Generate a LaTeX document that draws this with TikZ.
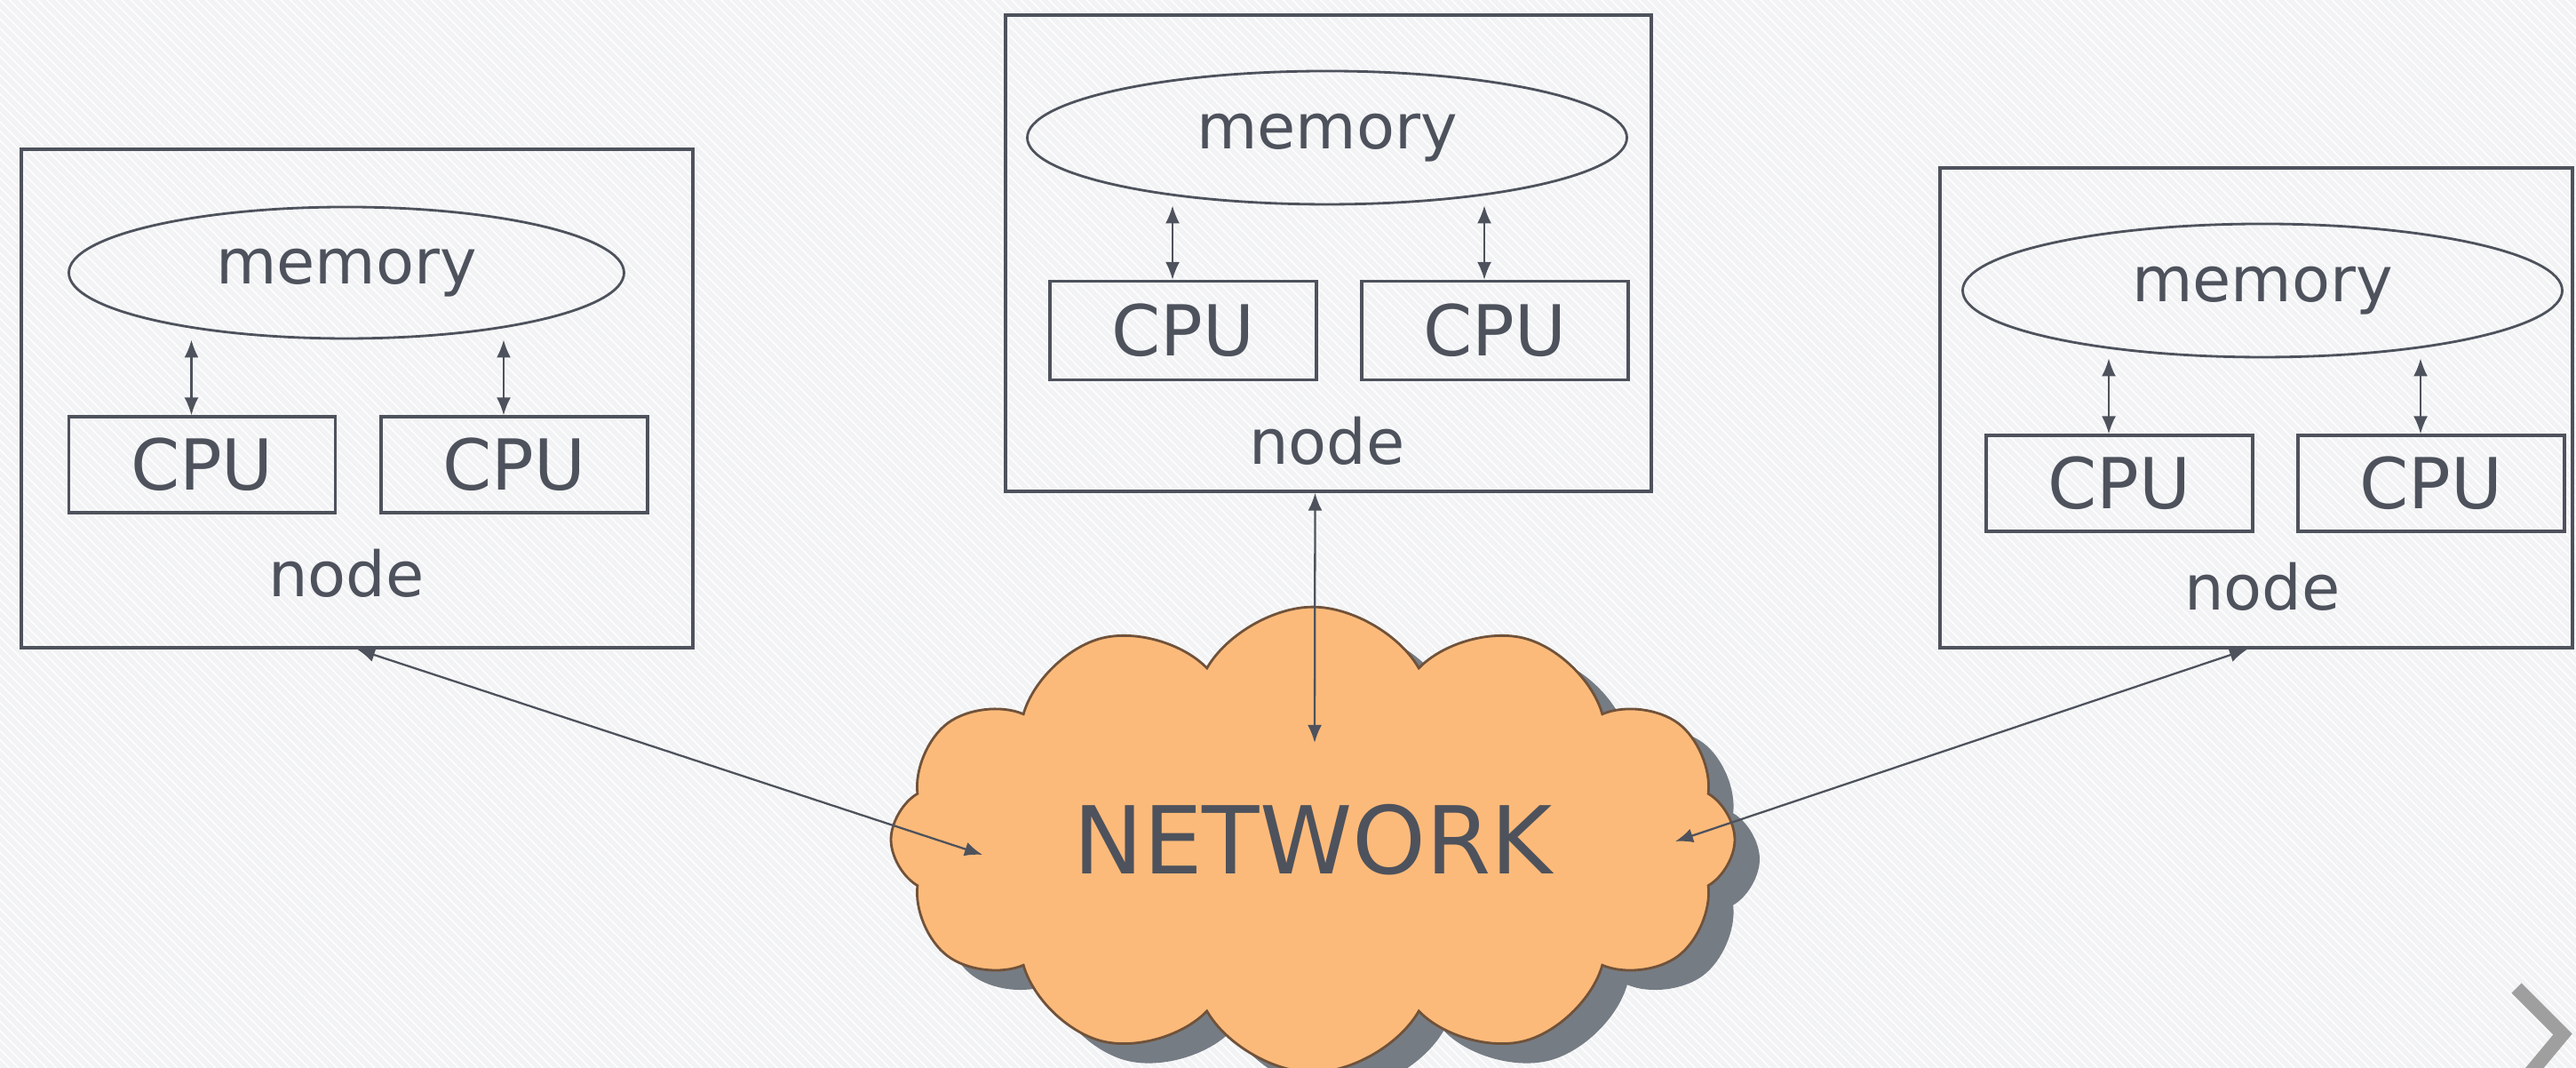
\documentclass[tikz,border=0pt]{standalone}
\usepackage{fontspec}
\setmainfont{DejaVu Sans}
\usetikzlibrary{shapes.geometric,shapes.symbols,shadows,patterns,arrows.meta}

\definecolor{ink}{RGB}{78,82,92}
\definecolor{bgcol}{RGB}{242,243,245}
\definecolor{cloudfill}{RGB}{252,186,122}
\definecolor{cloudline}{RGB}{112,82,58}
\definecolor{shadowcol}{RGB}{118,124,132}

\newcommand{\labfont}{\fontsize{20}{24}\selectfont}
\newcommand{\cpufont}{\fontsize{22.5}{27}\selectfont}
\newcommand{\netfont}{\fontsize{30}{36}\selectfont}

\begin{document}
\begin{tikzpicture}[text=ink,
                    nodebox/.style={rectangle,draw=ink,line width=1pt},
                    memory node/.style={ellipse,draw=ink,line width=0.8pt,
                      minimum width=6.6cm,minimum height=1.5cm,font=\labfont},
                    cpu node/.style={rectangle,draw=ink,line width=0.9pt,
                      minimum width=3cm,minimum height=1.08cm,font=\cpufont},
                    link/.style={draw=ink,line width=0.65pt,
                      {Latex[length=2mm,width=1.6mm]}-{Latex[length=2mm,width=1.6mm]}}
                   ]
   % page and background
   \clip (0,0) rectangle (29,12.02);
   \fill[bgcol] (0,0) rectangle (29,12.02);
   \fill[pattern=north west lines,pattern color=white] (0,0) rectangle (29,12.02);

   % left computer
   \node[nodebox,minimum width=7.56cm,minimum height=5.61cm] (lbox) at (4.02,7.535) {};
   \node[memory node,minimum width=6.25cm,minimum height=1.48cm] (lmem) at (3.90,8.95) {memory};
   \node[cpu node] (lcpua) at (2.275,6.79) {CPU};
   \node[cpu node] (lcpub) at (5.79,6.79) {CPU};
   \node[font=\labfont] (llabel) at (3.90,5.57) {node};

   % middle computer
   \node[nodebox,minimum width=7.27cm,minimum height=5.36cm] (mbox) at (14.955,9.17) {};
   \node[memory node,minimum width=6.75cm] (mmem) at (14.94,10.47) {memory};
   \node[cpu node,minimum height=1.11cm] (mcpua) at (13.32,8.30) {CPU};
   \node[cpu node,minimum height=1.11cm] (mcpub) at (16.83,8.30) {CPU};
   \node[font=\labfont] (mlabel) at (14.94,7.06) {node};

   % right computer
   \node[nodebox,minimum width=7.12cm,minimum height=5.40cm] (rbox) at (25.40,7.43) {};
   \node[memory node,minimum width=6.75cm] (rmem) at (25.47,8.75) {memory};
   \node[cpu node] (rcpua) at (23.86,6.58) {CPU};
   \node[cpu node] (rcpub) at (27.37,6.58) {CPU};
   \node[font=\labfont] (rlabel) at (25.47,5.42) {node};

   % the network
   \node[cloud,cloud puffs=12,cloud puff arc=120,aspect=1.9,
         minimum width=9.5cm,minimum height=5.1cm,
         fill=cloudfill,draw=cloudline,line width=0.8pt,
         drop shadow={shadow xshift=0.28cm,shadow yshift=-0.22cm,fill=shadowcol,opacity=1},
         font=\netfont] (net) at (14.78,2.57) {NETWORK};
   \coordinate (lin) at (11.06,2.40);
   \coordinate (min) at (14.80,3.66);
   \coordinate (rin) at (18.86,2.55);

   % memory <-> cpu
   \foreach \b in {l,m,r}
     \foreach \c in {a,b}
       \draw[link] ([xshift=-1.2mm]\b cpu\c.north) -- ([xshift=-1.2mm]\b cpu\c.north |- \b mem.south);

   % node <-> network
   \path%
     (lbox.south) edge [link] (lin)
     ([xshift=-1.5mm]mbox.south) edge [link] (min)
     ([xshift=-1mm]rbox.south) edge [link] (rin);

   % slide arrow
   \draw[gray!75,line width=4.5pt] (28.33,0.90) -- (28.85,0.38) -- (28.45,-0.1);
\end{tikzpicture}
\end{document}
